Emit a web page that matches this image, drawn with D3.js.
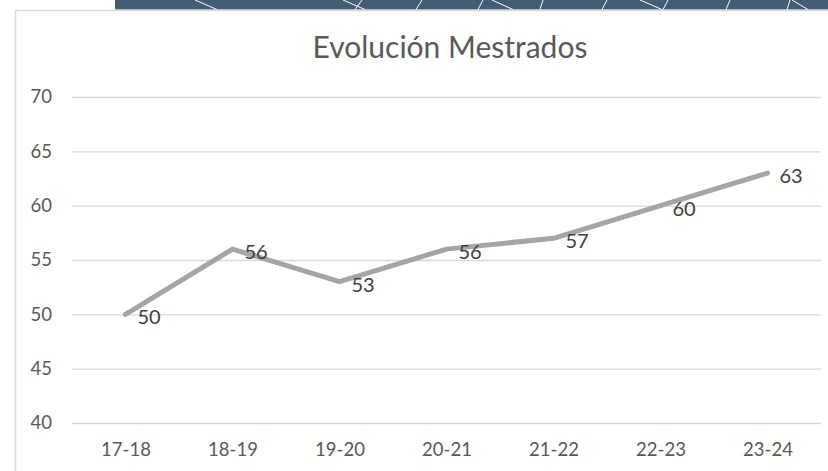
<!DOCTYPE html>
<html>
<head>
<meta charset="utf-8">
<script src="https://cdn.jsdelivr.net/npm/d3@7"></script>
<style>
  html, body { margin: 0; padding: 0; background: #fff; }
  svg { display: block; font-family: Lato, "Noto Sans", sans-serif; }
</style>
</head>
<body>
<div id="container"></div>
<script>
// Chart data
const seasons = ["17-18", "18-19", "19-20", "20-21", "21-22", "22-23", "23-24"];
const mestrados = [50, 56, 53, 56, 57, 60, 63];
const yTicks = [40, 45, 50, 55, 60, 65, 70];
const chartTitle = "Evolución Mestrados";

// Declare the chart dimensions and margins.
const width = 828;
const height = 471;
const marginTop = 97;
const marginRight = 7;
const marginBottom = 48;
const marginLeft = 72;

// decorative strokes on the dark banner at the top (x at top, x at bottom)
const bannerStrokes = [
    [195, 217], [343, 365], [362, 355], [422, 416], [483, 478], [492, 513],
    [543, 540], [607, 602], [640, 662], [668, 663], [730, 726], [790, 787], [792, 808]
];

const svg = d3.select("#container").append("svg")
    .attr("width", width)
    .attr("height", height)
    .attr("viewBox", [0, 0, width, height]);

// banner
svg.append("rect")
    .attr("x", 115).attr("y", 0)
    .attr("width", width - 115).attr("height", 9.5)
    .attr("fill", "#435d74");

svg.append("g")
    .selectAll("line")
    .data(bannerStrokes)
    .join("line")
    .attr("x1", d => d[0]).attr("y1", 0)
    .attr("x2", d => d[1]).attr("y2", 9.5)
    .attr("stroke", "#fff")
    .attr("stroke-width", 1);

// chart area border
svg.append("rect")
    .attr("x", 15.5).attr("y", 10.5)
    .attr("width", 900).attr("height", 500)
    .attr("fill", "#fff")
    .attr("stroke", "#d9d9d9")
    .attr("stroke-width", 1.5);

// scales
const x = d3.scalePoint()
    .domain(seasons)
    .range([marginLeft, width - marginRight])
    .padding(0.5);

const y = d3.scaleLinear()
    .domain([40, 70])
    .range([height - marginBottom, marginTop]);

// title
svg.append("text")
    .attr("x", 450)
    .attr("y", 58)
    .attr("text-anchor", "middle")
    .attr("fill", "#595959")
    .style("font-size", "30px")
    .text(chartTitle);

// y axis with gridlines
svg.append("g")
    .attr("transform", `translate(${marginLeft},0)`)
    .call(d3.axisLeft(y).tickValues(yTicks).tickSize(0).tickPadding(20))
    .call(g => g.select(".domain").remove())
    .call(g => g.selectAll(".tick line").clone()
        .attr("x2", width - marginLeft - marginRight)
        .attr("stroke", "#d9d9d9")
        .attr("stroke-width", 1.3))
    .call(g => g.selectAll(".tick text")
        .attr("fill", "#595959")
        .style("font-size", "18.5px")
        .style("font-family", "Lato, 'Noto Sans', sans-serif"));

// x axis
svg.append("g")
    .attr("transform", `translate(0,${height - marginBottom})`)
    .call(d3.axisBottom(x).tickSize(0).tickPadding(20))
    .call(g => g.select(".domain").remove())
    .call(g => g.selectAll(".tick text")
        .attr("fill", "#595959")
        .style("font-size", "18.5px")
        .style("font-family", "Lato, 'Noto Sans', sans-serif"));

// line
const line = d3.line()
    .x((d, i) => x(seasons[i]))
    .y(d => y(d));

svg.append("path")
    .datum(mestrados)
    .attr("fill", "none")
    .attr("stroke", "#a5a5a5")
    .attr("stroke-width", 5)
    .attr("stroke-linejoin", "round")
    .attr("stroke-linecap", "round")
    .attr("d", line);

// data labels
svg.append("g")
    .selectAll("text")
    .data(mestrados)
    .join("text")
    .attr("x", (d, i) => x(seasons[i]) + 12)
    .attr("y", d => y(d) + 3)
    .attr("dy", "0.35em")
    .attr("fill", "#404040")
    .style("font-size", "20px")
    .text(d => d);
</script>
</body>
</html>
